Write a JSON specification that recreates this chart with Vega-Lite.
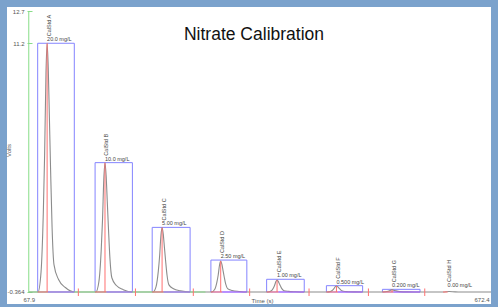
{
  "$schema": "https://vega.github.io/schema/vega-lite/v6.json",
  "width": 498,
  "height": 307,
  "autosize": {"type": "fit", "contains": "padding"},
  "padding": {"left": 5, "top": 7, "right": 4, "bottom": 3},
  "background": "#7ba2cc",
  "config": {"view": {"fill": "white", "stroke": null}, "font": "Liberation Sans"},
  "title": {"text": "Nitrate Calibration", "fontSize": 17.5, "fontWeight": "normal", "color": "#111", "font": "Liberation Sans", "offset": -36, "anchor": "middle", "dx": 5},
  "datasets": {
    "trace": [
      {"t": 67.9, "v": -0.364},
      {"t": 80, "v": -0.364}, {"t": 84, "v": 0.561}, {"t": 87, "v": 3.335}, {"t": 88.7, "v": 5.994}, {"t": 90.5, "v": 9.809}, {"t": 92, "v": 11.196}, {"t": 93.5, "v": 10.04}, {"t": 95, "v": 7.728}, {"t": 96.5, "v": 5.416}, {"t": 98.5, "v": 2.642}, {"t": 101, "v": 0.908}, {"t": 107, "v": 0.214}, {"t": 116, "v": -0.156}, {"t": 128, "v": -0.364},
      {"t": 156, "v": -0.364}, {"t": 160, "v": 0.117}, {"t": 163, "v": 1.559}, {"t": 164.7, "v": 2.942}, {"t": 166.5, "v": 4.925}, {"t": 168, "v": 5.646}, {"t": 169.5, "v": 5.045}, {"t": 171, "v": 3.843}, {"t": 172.5, "v": 2.641}, {"t": 174.5, "v": 1.199}, {"t": 177, "v": 0.297}, {"t": 183, "v": -0.063}, {"t": 192, "v": -0.256}, {"t": 204, "v": -0.364},
      {"t": 231, "v": -0.364}, {"t": 235, "v": -0.124}, {"t": 238, "v": 0.596}, {"t": 239.7, "v": 1.286}, {"t": 241.5, "v": 2.276}, {"t": 243, "v": 2.636}, {"t": 244.5, "v": 2.336}, {"t": 246, "v": 1.736}, {"t": 247.5, "v": 1.136}, {"t": 249.5, "v": 0.416}, {"t": 252, "v": -0.034}, {"t": 258, "v": -0.214}, {"t": 267, "v": -0.31}, {"t": 279, "v": -0.364},
      {"t": 308, "v": -0.364}, {"t": 312, "v": -0.249}, {"t": 315, "v": 0.097}, {"t": 316.7, "v": 0.428}, {"t": 318.5, "v": 0.903}, {"t": 320, "v": 1.076}, {"t": 321.5, "v": 0.932}, {"t": 323, "v": 0.644}, {"t": 324.5, "v": 0.356}, {"t": 326.5, "v": 0.01}, {"t": 329, "v": -0.206}, {"t": 335, "v": -0.292}, {"t": 344, "v": -0.338}, {"t": 356, "v": -0.364},
      {"t": 382, "v": -0.364}, {"t": 386, "v": -0.32}, {"t": 389, "v": -0.188}, {"t": 390.7, "v": -0.061}, {"t": 392.5, "v": 0.12}, {"t": 394, "v": 0.186}, {"t": 395.5, "v": 0.131}, {"t": 397, "v": 0.021}, {"t": 398.5, "v": -0.089}, {"t": 400.5, "v": -0.221}, {"t": 403, "v": -0.303}, {"t": 409, "v": -0.336}, {"t": 418, "v": -0.354}, {"t": 430, "v": -0.364},
      {"t": 460, "v": -0.364}, {"t": 464, "v": -0.342}, {"t": 467, "v": -0.274}, {"t": 468.7, "v": -0.21}, {"t": 470.5, "v": -0.118}, {"t": 472, "v": -0.084}, {"t": 473.5, "v": -0.112}, {"t": 475, "v": -0.168}, {"t": 476.5, "v": -0.224}, {"t": 478.5, "v": -0.291}, {"t": 481, "v": -0.333}, {"t": 487, "v": -0.35}, {"t": 496, "v": -0.359}, {"t": 508, "v": -0.364},
      {"t": 533, "v": -0.364}, {"t": 540, "v": -0.329}, {"t": 543, "v": -0.28}, {"t": 545, "v": -0.254}, {"t": 547, "v": -0.28}, {"t": 550, "v": -0.31}, {"t": 555, "v": -0.345}, {"t": 565, "v": -0.36}, {"t": 580, "v": -0.364},
      {"t": 612, "v": -0.364}, {"t": 620, "v": -0.344}, {"t": 628, "v": -0.36}, {"t": 640, "v": -0.364},
      {"t": 675, "v": -0.364}
    ],
    "peaks": [
      {"std": "CalStd A", "t": 92, "apex": 11.196, "t1": 79.6, "t2": 127.7, "top": 11.2, "base": -0.364, "conc": "20.0 mg/L"},
      {"std": "CalStd B", "t": 168, "apex": 5.646, "t1": 155.0, "t2": 204.0, "top": 5.65, "base": -0.364, "conc": "10.0 mg/L"},
      {"std": "CalStd C", "t": 243, "apex": 2.636, "t1": 230.0, "t2": 279.8, "top": 2.64, "base": -0.364, "conc": "5.00 mg/L"},
      {"std": "CalStd D", "t": 320, "apex": 1.076, "t1": 307.1, "t2": 354.3, "top": 1.12, "base": -0.364, "conc": "2.50 mg/L"},
      {"std": "CalStd E", "t": 394, "apex": 0.186, "t1": 380.3, "t2": 429.7, "top": 0.227, "base": -0.364, "conc": "1.00 mg/L"},
      {"std": "CalStd F", "t": 472, "apex": -0.084, "t1": 458.8, "t2": 506.4, "top": -0.07, "base": -0.364, "conc": "0.500 mg/L"},
      {"std": "CalStd G", "t": 545, "apex": -0.254, "t1": 532.4, "t2": 581.8, "top": -0.24, "base": -0.364, "conc": "0.200 mg/L"},
      {"std": "CalStd H", "t": 618, "apex": null, "t1": null, "t2": null, "top": -0.22, "base": -0.364, "conc": "0.00 mg/L"}
    ],
    "segments": [
      {"a": 67.9, "b": 300, "v": -0.364, "kind": "g"},
      {"a": 79.6, "b": 93, "v": -0.364, "kind": "r"}, {"a": 93, "b": 127.7, "v": -0.364, "kind": "p"},
      {"a": 155, "b": 170, "v": -0.364, "kind": "r"}, {"a": 170, "b": 204, "v": -0.364, "kind": "p"},
      {"a": 230, "b": 245, "v": -0.364, "kind": "r"}, {"a": 245, "b": 279.8, "v": -0.364, "kind": "p"},
      {"a": 307.1, "b": 322, "v": -0.364, "kind": "r"}, {"a": 322, "b": 354.3, "v": -0.364, "kind": "p"},
      {"a": 380.3, "b": 396, "v": -0.364, "kind": "r"}, {"a": 396, "b": 429.7, "v": -0.364, "kind": "p"},
      {"a": 458.8, "b": 474, "v": -0.364, "kind": "r"}, {"a": 474, "b": 506.4, "v": -0.364, "kind": "p"},
      {"a": 532.4, "b": 547, "v": -0.364, "kind": "r"}, {"a": 547, "b": 581.8, "v": -0.364, "kind": "p"},
      {"a": 612, "b": 618, "v": -0.364, "kind": "r"}
    ],
    "marks": [
      {"t": 133, "lo": -0.55, "hi": -0.2}, {"t": 208, "lo": -0.55, "hi": -0.2}, {"t": 284, "lo": -0.55, "hi": -0.2}, {"t": 358, "lo": -0.55, "hi": -0.2}, {"t": 436, "lo": -0.55, "hi": -0.2}, {"t": 514, "lo": -0.55, "hi": -0.2}, {"t": 588, "lo": -0.55, "hi": -0.2}
    ]
  },
  "layer": [
    {
      "data": {"name": "peaks"},
      "transform": [{"filter": "datum.t1 != null"}],
      "mark": {"type": "rect", "fill": null, "stroke": "#8484ff", "strokeWidth": 1},
      "encoding": {
        "x": {"field": "t1", "type": "quantitative", "scale": {"domain": [39.3, 675.0], "nice": false, "zero": false},
          "axis": {"orient": "bottom", "offset": -12, "values": [67.9, 672.4], "labelExpr": "'' + datum.value", "domain": false, "ticks": false, "grid": false, "labelFontSize": 6, "labelColor": "#555", "labelPadding": 4, "labelAlign": {"condition": {"test": "datum.value > 600", "value": "right"}, "value": "center"}, "title": "Time (s)", "titleFontSize": 6, "titleFontWeight": "normal", "titleColor": "#555", "titleX": 255, "titleY": 8, "titleBaseline": "middle"}},
        "x2": {"field": "t2"},
        "y": {"field": "top", "type": "quantitative", "scale": {"domain": [-0.922, 12.886], "nice": false, "zero": false},
          "axis": {"orient": "left", "offset": -25, "values": [12.7, 11.2, -0.364], "labelExpr": "'' + datum.value", "domain": false, "grid": false, "tickColor": "#88dd88", "tickSize": 5, "labelFontSize": 6, "labelColor": "#555", "labelPadding": 3, "title": "Volts", "titleFontSize": 6, "titleFontWeight": "normal", "titleColor": "#555", "titleX": -21, "titleY": 143}},
        "y2": {"field": "base"}
      }
    },
    {
      "data": {"name": "trace"},
      "mark": {"type": "line", "color": "#8c8c8c", "strokeWidth": 1.1, "interpolate": "monotone"},
      "encoding": {
        "x": {"field": "t", "type": "quantitative"},
        "y": {"field": "v", "type": "quantitative"}
      }
    },
    {
      "data": {"values": [{"t": 67.9, "lo": -0.364, "hi": 12.7}]},
      "mark": {"type": "rule", "color": "#88dd88", "strokeWidth": 1},
      "encoding": {
        "x": {"field": "t", "type": "quantitative"},
        "y": {"field": "lo", "type": "quantitative"},
        "y2": {"field": "hi"}
      }
    },
    {
      "data": {"name": "segments"},
      "mark": {"type": "rule", "strokeWidth": 1},
      "encoding": {
        "x": {"field": "a", "type": "quantitative"},
        "x2": {"field": "b"},
        "y": {"field": "v", "type": "quantitative"},
        "color": {"field": "kind", "type": "nominal", "scale": {"domain": ["g", "r", "p"], "range": ["#88dd88", "#ff7070", "#b060ff"]}, "legend": null}
      }
    },
    {
      "data": {"name": "marks"},
      "mark": {"type": "rule", "color": "#ff7070", "strokeWidth": 1},
      "encoding": {
        "x": {"field": "t", "type": "quantitative"},
        "y": {"field": "lo", "type": "quantitative"},
        "y2": {"field": "hi"}
      }
    },
    {
      "data": {"name": "peaks"},
      "transform": [{"filter": "datum.apex != null"}],
      "mark": {"type": "rule", "color": "#ff7070", "strokeWidth": 1},
      "encoding": {
        "x": {"field": "t", "type": "quantitative"},
        "y": {"field": "base", "type": "quantitative"},
        "y2": {"field": "apex"}
      }
    },
    {
      "data": {"name": "peaks"},
      "mark": {"type": "text", "angle": 270, "align": "left", "baseline": "middle", "dx": 7, "dy": 1.5, "fontSize": 5.5, "color": "#444"},
      "encoding": {
        "x": {"field": "t", "type": "quantitative"},
        "y": {"field": "top", "type": "quantitative"},
        "text": {"field": "std"}
      }
    },
    {
      "data": {"name": "peaks"},
      "mark": {"type": "text", "align": "left", "baseline": "bottom", "dy": -1, "fontSize": 5.5, "color": "#444"},
      "encoding": {
        "x": {"field": "t", "type": "quantitative"},
        "y": {"field": "top", "type": "quantitative"},
        "text": {"field": "conc"}
      }
    }
  ]
}
